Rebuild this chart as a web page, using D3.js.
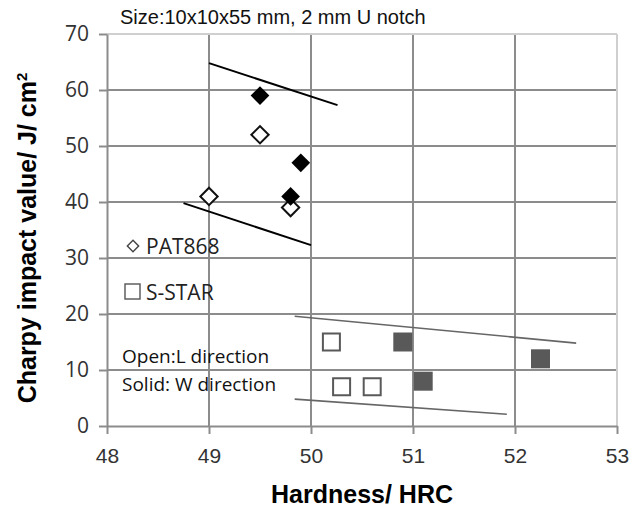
<!DOCTYPE html>
<html>
<head>
<meta charset="utf-8">
<script src="https://cdn.jsdelivr.net/npm/d3@7"></script>
<style>
  body { margin: 0; background: #fff; }
  svg { display: block; }
</style>
</head>
<body>
<svg id="chart"></svg>
<script>
// data: [hardness HRC, charpy J/cm2]
const patOpen = [[49.0, 41], [49.5, 52], [49.8, 39]];
const patSolid = [[49.5, 59], [49.9, 47], [49.8, 41]];
const starOpen = [[50.2, 15], [50.3, 7], [50.6, 7]];
const starSolid = [[50.9, 15], [51.1, 8], [52.25, 12]];
// band lines drawn by hand in the original
const patBands = [[[49.0, 64.8], [50.26, 57.3]], [[48.75, 39.8], [50.0, 32.3]]];
const starBands = [[[49.84, 19.6], [52.6, 14.8]], [[49.84, 4.8], [51.92, 2.1]]];
const xTicks = [48, 49, 50, 51, 52, 53];
const yTicks = [0, 10, 20, 30, 40, 50, 60, 70];

const width = 635, height = 507;
const margin = {top: 34, right: 18, bottom: 81, left: 107};

const svg = d3.select('#chart')
    .attr('width', width)
    .attr('height', height);

const x = d3.scaleLinear().domain([48, 53]).range([margin.left, width - margin.right]);
const y = d3.scaleLinear().domain([0, 70]).range([height - margin.bottom, margin.top]);

//grid
const grid = svg.append('g');
grid.selectAll('.vg')
    .data(xTicks.slice(1, -1))
    .enter().append('line')
    .attr('x1', d => x(d)).attr('x2', d => x(d))
    .attr('y1', y(0)).attr('y2', y(70))
    .attr('stroke', '#8c8c8c').attr('stroke-width', 2);
grid.selectAll('.hg')
    .data(yTicks.slice(1, -1))
    .enter().append('line')
    .attr('x1', x(48)).attr('x2', x(53))
    .attr('y1', d => y(d)).attr('y2', d => y(d))
    .attr('stroke', '#8c8c8c').attr('stroke-width', 2);
// light frame on top and right
grid.append('line')
    .attr('x1', x(48)).attr('x2', x(53)).attr('y1', y(70)).attr('y2', y(70))
    .attr('stroke', '#cfcfcf').attr('stroke-width', 2);
grid.append('line')
    .attr('x1', x(53)).attr('x2', x(53)).attr('y1', y(0)).attr('y2', y(70))
    .attr('stroke', '#cfcfcf').attr('stroke-width', 2);

//axes
const xAxis = svg.append('g')
    .attr('transform', 'translate(0,' + y(0) + ')')
    .call(d3.axisBottom(x).tickValues(xTicks).tickFormat(d3.format('d'))
        .tickSize(8).tickPadding(14).tickSizeOuter(0));
const yAxis = svg.append('g')
    .attr('transform', 'translate(' + x(48) + ',0)')
    .call(d3.axisLeft(y).tickValues(yTicks).tickFormat(d3.format('d'))
        .tickSize(8).tickPadding(10).tickSizeOuter(0));

[xAxis, yAxis].forEach(a => {
    a.select('.domain').attr('stroke', '#8c8c8c').attr('stroke-width', 2);
    a.selectAll('.tick line').attr('stroke', '#8c8c8c').attr('stroke-width', 2);
});
xAxis.selectAll('.tick text')
    .attr('fill', '#333')
    .style('font-family', '"Liberation Sans", Arial, sans-serif')
    .style('font-size', '21px');
yAxis.selectAll('.tick text')
    .attr('fill', '#333')
    .style('font-family', '"Open Sans", sans-serif')
    .style('font-size', '21px');

//band lines
const line = d3.line().x(d => x(d[0])).y(d => y(d[1]));
svg.selectAll('.patband')
    .data(patBands)
    .enter().append('path')
    .attr('d', line)
    .attr('fill', 'none')
    .attr('stroke', '#000')
    .attr('stroke-width', 2);
svg.selectAll('.starband')
    .data(starBands)
    .enter().append('path')
    .attr('d', line)
    .attr('fill', 'none')
    .attr('stroke', '#666')
    .attr('stroke-width', 1.6);

//markers
const diamond = d3.symbol().type(d3.symbolSquare).size(150);
const diamondSolid = d3.symbol().type(d3.symbolSquare).size(175);
const square = d3.symbol().type(d3.symbolSquare).size(17 * 17);
const squareSolid = d3.symbol().type(d3.symbolSquare).size(19 * 19);

svg.selectAll('.po')
    .data(patOpen)
    .enter().append('path')
    .attr('d', diamond)
    .attr('transform', d => 'translate(' + x(d[0]) + ',' + y(d[1]) + ') rotate(45)')
    .attr('fill', '#fff').attr('stroke', '#111').attr('stroke-width', 2);
svg.selectAll('.ps')
    .data(patSolid)
    .enter().append('path')
    .attr('d', diamondSolid)
    .attr('transform', d => 'translate(' + x(d[0]) + ',' + y(d[1]) + ') rotate(45)')
    .attr('fill', '#000');
svg.selectAll('.so')
    .data(starOpen)
    .enter().append('path')
    .attr('d', square)
    .attr('transform', d => 'translate(' + x(d[0]) + ',' + y(d[1]) + ')')
    .attr('fill', '#fff').attr('stroke', '#595959').attr('stroke-width', 2);
svg.selectAll('.ss')
    .data(starSolid)
    .enter().append('path')
    .attr('d', squareSolid)
    .attr('transform', d => 'translate(' + x(d[0]) + ',' + y(d[1]) + ')')
    .attr('fill', '#595959');

//legend and notes
const legendFont = '"Open Sans", sans-serif';
svg.append('path')
    .attr('d', d3.symbol().type(d3.symbolSquare).size(64))
    .attr('transform', 'translate(133,246) rotate(45)')
    .attr('fill', '#fff').attr('stroke', '#444').attr('stroke-width', 1.4);
svg.append('text')
    .attr('x', 146).attr('y', 254)
    .attr('fill', '#222')
    .style('font-family', legendFont).style('font-size', '21px')
    .text('PAT868');
svg.append('rect')
    .attr('x', 125).attr('y', 284).attr('width', 15).attr('height', 15)
    .attr('fill', '#fff').attr('stroke', '#555').attr('stroke-width', 1.4);
svg.append('text')
    .attr('x', 146).attr('y', 300)
    .attr('fill', '#222')
    .style('font-family', legendFont).style('font-size', '21px')
    .text('S-STAR');
svg.append('text')
    .attr('x', 122).attr('y', 363)
    .attr('fill', '#111')
    .style('font-family', legendFont).style('font-size', '19px')
    .text('Open:L direction');
svg.append('text')
    .attr('x', 122).attr('y', 391)
    .attr('fill', '#111')
    .style('font-family', legendFont).style('font-size', '19px')
    .text('Solid: W direction');

//titles
svg.append('text')
    .attr('x', 120).attr('y', 24)
    .attr('fill', '#111')
    .style('font-family', '"Liberation Sans", Arial, sans-serif').style('font-size', '20px')
    .text('Size:10x10x55 mm, 2 mm U notch');

svg.append('text')
    .attr('x', x(50.5)).attr('y', 503)
    .attr('text-anchor', 'middle')
    .attr('fill', '#000')
    .style('font-family', '"Liberation Sans", Arial, sans-serif')
    .style('font-size', '25px').style('font-weight', 'bold')
    .text('Hardness/ HRC');

const yTitle = svg.append('text')
    .attr('transform', 'translate(36,' + 238 + ') rotate(-90)')
    .attr('text-anchor', 'middle')
    .attr('fill', '#000')
    .style('font-family', '"Liberation Sans", Arial, sans-serif')
    .style('font-size', '25px').style('font-weight', 'bold');
yTitle.append('tspan').text('Charpy impact value/ J/ cm');
yTitle.append('tspan').attr('dy', -9).style('font-size', '15px').text('2');
</script>
</body>
</html>
